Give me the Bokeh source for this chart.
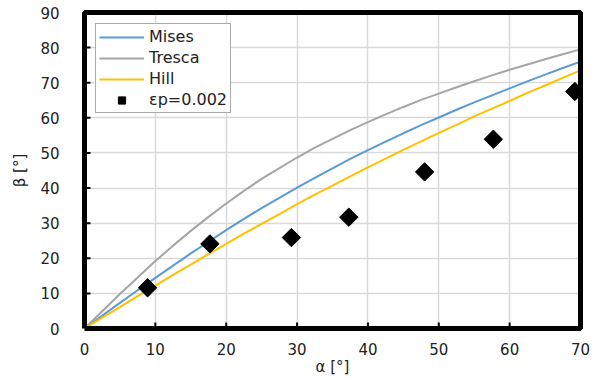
import math
from bokeh.plotting import figure
from bokeh.models import Legend, LegendItem, FixedTicker
from bokeh.embed import file_html
from bokeh.resources import INLINE

alpha = [0, 2.5, 5, 7.5, 10, 12.5, 15, 17.5, 20, 22.5, 25, 27.5, 30, 32.5, 35, 37.5,
         40, 42.5, 45, 47.5, 50, 52.5, 55, 57.5, 60, 62.5, 65, 67.5, 70]
mises = [0, 3.65, 7.3, 10.9, 14.4, 17.9, 21.4, 24.7, 28.0, 31.2, 34.3, 37.2, 40.1, 42.9,
         45.6, 48.3, 50.8, 53.2, 55.6, 57.9, 60.1, 62.3, 64.4, 66.4, 68.4, 70.4, 72.3, 74.2, 76.0]
tresca = [0, 4.9, 9.8, 14.5, 19.2, 23.6, 27.8, 31.8, 35.6, 39.2, 42.6, 45.7, 48.7, 51.5,
          54.0, 56.5, 58.8, 61.0, 63.1, 65.1, 66.9, 68.7, 70.4, 72.1, 73.7, 75.2, 76.7, 78.1, 79.5]
hill = [0, 3.1, 6.1, 9.2, 12.2, 15.3, 18.2, 21.2, 24.1, 27.0, 29.8, 32.6, 35.4, 38.1,
        40.7, 43.3, 45.9, 48.4, 50.9, 53.3, 55.7, 58.0, 60.4, 62.6, 64.8, 67.1, 69.2, 71.4, 73.5]

exp_alpha = [8.9, 17.7, 29.2, 37.3, 48.0, 57.7, 69.2]
exp_beta = [11.6, 24.1, 25.9, 31.7, 44.6, 53.9, 67.5]

x_ticks = [0, 10, 20, 30, 40, 50, 60, 70]
y_ticks = [0, 10, 20, 30, 40, 50, 60, 70, 80, 90]
X0, X1 = x_ticks[0], x_ticks[-1]
Y0, Y1 = y_ticks[0], y_ticks[-1]

p = figure(width=600, height=380, output_backend="svg", toolbar_location=None,
           x_range=(X0, X1), y_range=(Y0, Y1),
           min_border_left=84, min_border_right=20, min_border_top=12, min_border_bottom=52)

FONT = "DejaVu Sans"

p.xgrid.grid_line_color = "#D9D9D9"
p.ygrid.grid_line_color = "#D9D9D9"
p.xgrid.grid_line_width = 1.5
p.ygrid.grid_line_width = 1.5

r_m = p.line(alpha, mises, line_color="#5B9BD5", line_width=2)
r_t = p.line(alpha, tresca, line_color="#A5A5A5", line_width=2)
r_h = p.line(alpha, hill, line_color="#FFC000", line_width=2)
r_e = p.scatter(exp_alpha, exp_beta, marker="square", angle=math.pi / 4, size=13,
                fill_color="black", line_color="black")

# inward tick marks
p.ray(x=x_ticks[1:-1], y=[Y0] * (len(x_ticks) - 2), length=6, length_units="screen",
      angle=math.pi / 2, line_color="black", line_width=2)
p.ray(x=[X0] * (len(y_ticks) - 2), y=y_ticks[1:-1], length=6, length_units="screen",
      angle=0, line_color="black", line_width=2)

# plot-area frame
p.line(x=[X0, X1, X1, X0, X0], y=[Y0, Y0, Y1, Y1, Y0], line_color="black", line_width=5,
       level="overlay")

p.outline_line_color = None

for ax in (p.xaxis[0], p.yaxis[0]):
    ax.axis_line_color = None
    ax.major_tick_line_color = None
    ax.minor_tick_line_color = None
    ax.major_label_text_font = FONT
    ax.major_label_text_font_size = "15px"
    ax.major_label_text_color = "#222222"
    ax.axis_label_text_font = FONT
    ax.axis_label_text_font_size = "15px"
    ax.axis_label_text_font_style = "normal"
    ax.axis_label_text_color = "#222222"

p.xaxis[0].ticker = FixedTicker(ticks=x_ticks)
p.yaxis[0].ticker = FixedTicker(ticks=y_ticks)
p.xaxis[0].axis_label = "α [°]"
p.yaxis[0].axis_label = "β [°]"
p.xaxis[0].major_label_standoff = 8
p.yaxis[0].major_label_standoff = 19
p.xaxis[0].axis_label_standoff = 0
p.yaxis[0].axis_label_standoff = 8

legend = Legend(items=[
    LegendItem(label="Mises", renderers=[r_m]),
    LegendItem(label="Tresca", renderers=[r_t]),
    LegendItem(label="Hill", renderers=[r_h]),
    LegendItem(label="εp=0.002", renderers=[r_e]),
], location="top_left")
legend.label_text_font = FONT
legend.label_text_font_size = "16px"
legend.label_text_color = "#222222"
legend.glyph_width = 45
legend.glyph_height = 18
legend.label_height = 18
legend.spacing = 2
legend.padding = 3
legend.margin = 11
legend.label_standoff = 5
legend.border_line_color = "#555555"
legend.border_line_width = 1
legend.background_fill_alpha = 1
p.add_layout(legend)

open("out.html", "w").write(file_html(p, INLINE))
